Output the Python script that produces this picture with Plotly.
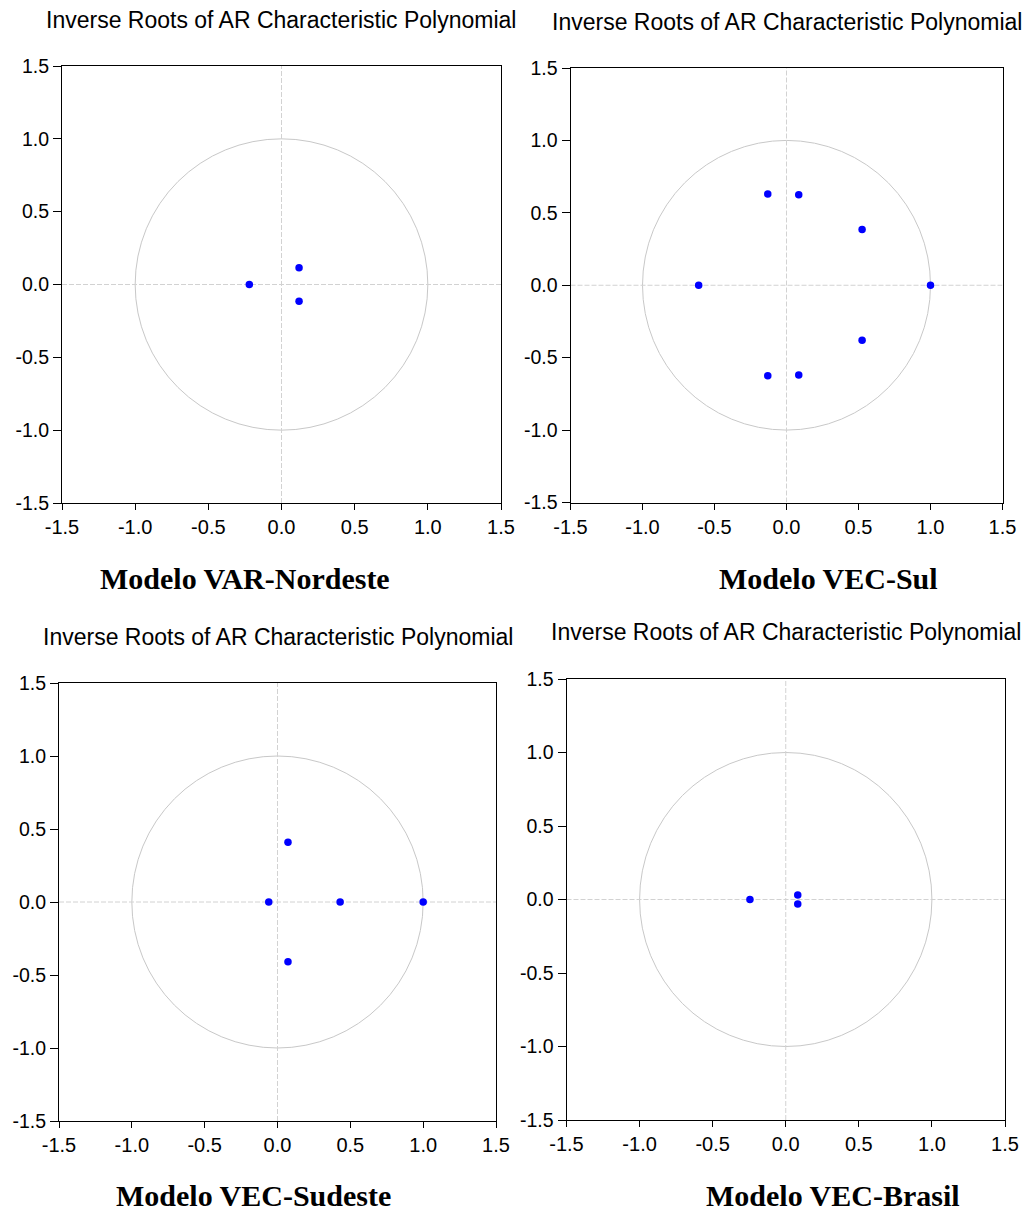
import plotly.graph_objects as go

nordeste_re = [-0.22, 0.12, 0.12]
nordeste_im = [0.0, 0.115, -0.115]

sul_re = [-0.13, 0.085, 0.525, -0.61, 1.0, 0.525, -0.13, 0.085]
sul_im = [0.63, 0.625, 0.385, 0.0, 0.0, -0.38, -0.625, -0.62]

sudeste_re = [0.072, -0.06, 0.43, 1.0, 0.072]
sudeste_im = [0.41, 0.0, 0.0, 0.0, -0.41]

brasil_re = [-0.245, 0.082, 0.082]
brasil_im = [0.0, 0.03, -0.03]

tick_vals = [-1.5, -1.0, -0.5, 0.0, 0.5, 1.0, 1.5]
tick_text = ["-1.5", "-1.0", "-0.5", "0.0", "0.5", "1.0", "1.5"]

panel_title = "Inverse Roots of AR Characteristic Polynomial"
model_names = ["Modelo VAR-Nordeste", "Modelo VEC-Sul", "Modelo VEC-Sudeste", "Modelo VEC-Brasil"]
series = [(nordeste_re, nordeste_im), (sul_re, sul_im), (sudeste_re, sudeste_im), (brasil_re, brasil_im)]

W, H = 1028, 1212
# pixel boxes of the four plot areas: left, right, top, bottom
boxes = [(62, 501, 66, 503), (570.5, 1002.5, 68, 502.5), (59, 496, 683, 1121), (566.5, 1005, 679, 1120)]
title_pos = [(281, 20), (787, 22), (278, 637), (786, 632)]
model_pos = [(245, 578), (828, 578), (253, 1195), (833, 1195)]

fig = go.Figure()
annotations = []
shapes = []
for i, ((xs, ys), (l, r, t, b)) in enumerate(zip(series, boxes)):
    n = "" if i == 0 else str(i + 1)
    xa, ya = "x" + n, "y" + n
    fig.add_trace(go.Scatter(x=xs, y=ys, mode="markers", xaxis=xa, yaxis=ya,
                             marker=dict(color="#0000ff", size=7.5), showlegend=False, hoverinfo="x+y"))
    common = dict(range=[-1.5, 1.5], tickvals=tick_vals, ticktext=tick_text, showgrid=False,
                  zeroline=False, showline=True, mirror=True, linecolor="black", linewidth=1,
                  ticks="outside", tickcolor="black", tickwidth=1, fixedrange=True, automargin=False)
    fig.update_layout(**{
        "xaxis" + n: dict(domain=[l / W, r / W], anchor=ya, ticklen=6,
                          tickfont=dict(family="Liberation Sans, Arial", size=20, color="black"), **common),
        "yaxis" + n: dict(domain=[1 - b / H, 1 - t / H], anchor=xa, ticklen=8,
                          tickfont=dict(family="Liberation Sans, Arial", size=19.5, color="black"), **common),
    })
    shapes.append(dict(type="circle", xref=xa, yref=ya, x0=-1, x1=1, y0=-1, y1=1,
                       line=dict(color="#c8c8c8", width=1), layer="below"))
    shapes.append(dict(type="line", xref=xa, yref=ya, x0=-1.5, x1=1.5, y0=0, y1=0,
                       line=dict(color="#d2d2d2", width=1, dash="5px,2px"), layer="below"))
    shapes.append(dict(type="line", xref=xa, yref=ya, x0=0, x1=0, y0=-1.5, y1=1.5,
                       line=dict(color="#d2d2d2", width=1, dash="5px,2px"), layer="below"))
    tx, ty = title_pos[i]
    annotations.append(dict(text=panel_title, xref="paper", yref="paper", x=tx / W, y=1 - ty / H,
                            xanchor="center", yanchor="middle", showarrow=False,
                            font=dict(family="Liberation Sans, Arial", size=23, color="black")))
    mx, my = model_pos[i]
    annotations.append(dict(text="<b>" + model_names[i] + "</b>", xref="paper", yref="paper",
                            x=mx / W, y=1 - my / H, xanchor="center", yanchor="middle", showarrow=False,
                            font=dict(family="Liberation Serif, Times New Roman", size=30, color="black")))

fig.update_layout(width=W, height=H, margin=dict(l=0, r=0, t=0, b=0),
                  paper_bgcolor="white", plot_bgcolor="white",
                  annotations=annotations, shapes=shapes)

fig.write_html("out.html")
